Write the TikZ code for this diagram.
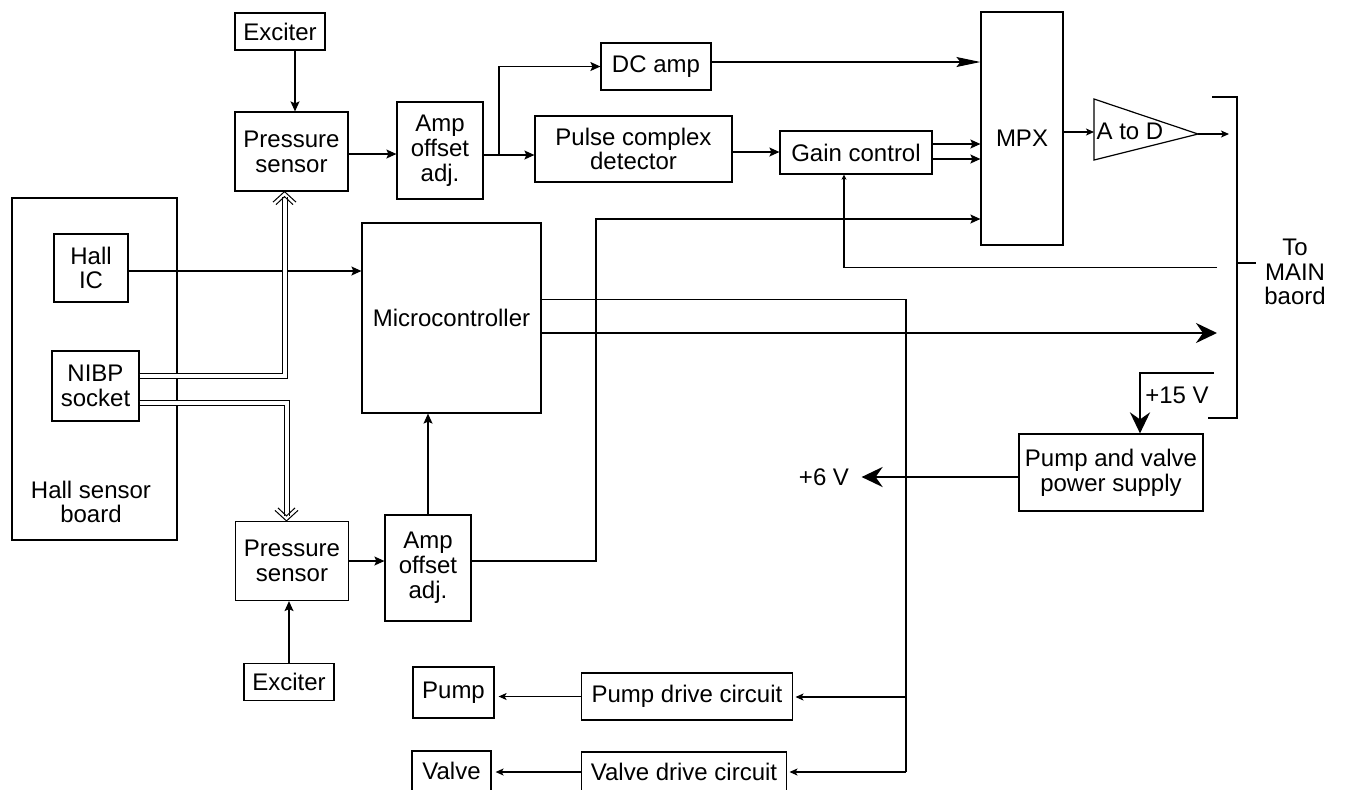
\documentclass[tikz,border=0pt]{standalone}
\usepackage{fontspec}
\setmainfont{Liberation Sans}
\usetikzlibrary{arrows.meta}
\begin{document}
\begin{tikzpicture}[x=0.5pt,y=-0.5pt,
  line width=0.6pt,
  box/.style={draw,line width=0.6pt,inner sep=0pt,align=center,font=\fontsize{12}{12.4}\selectfont},
  txt/.style={inner sep=0pt,align=center,font=\fontsize{12}{12.4}\selectfont},
  arr/.style={-{Stealth[length=5pt,width=4.5pt,inset=1pt]}},
  sarr/.style={-{Stealth[length=4pt,width=3.5pt,inset=1pt]}},
  farr/.style={-{Stealth[length=2.5pt,width=2.5pt,inset=0.6pt]}},
  larr/.style={-{Stealth[length=12pt,width=5pt,inset=2pt]}},
  tarr/.style={line width=1.3pt,-{Stealth[length=10.5pt,width=10pt,inset=3.5pt]}},
  dbl/.style={double,double distance=2pt,line width=0.5pt,shorten >=2.5pt},
  chev/.style={line width=0.5pt}
]
\useasboundingbox (0,0) rectangle (1345,789);
\clip (0,0) rectangle (1345,789);

% upper chain
\node[box,minimum width=45pt,minimum height=18.5pt] (exc1) at (280,31.5) {Exciter};
\node[box,minimum width=56.5pt,minimum height=39.5pt] (ps1) at (291.5,151.5) {Pressure\\sensor};
\node[box,minimum width=43pt,minimum height=48.5pt] (amp1) at (440,150.5) {Amp\\offset\\adj.};
\node[box,minimum width=55pt,minimum height=23.5pt] (dc) at (656,66.5) {DC amp};
\node[box,minimum width=98.5pt,minimum height=33pt] (pcd) at (633.5,149) {Pulse complex\\detector};
\node[box,minimum width=76pt,minimum height=21.5pt] (gain) at (856,152.5) {Gain control};
\node[box,minimum width=41pt,minimum height=116.5pt] (mpx) at (1022,128.5) {};
\node[txt] (mpxtxt) at (1022,138) {MPX};
\draw (1094,99) -- (1198,134) -- (1094,160) -- cycle;
\coordinate (adin) at (1094,132);
\coordinate (adout) at (1198,134);
\coordinate (adend) at (1229,134);
\node[txt,anchor=west] (adtxt) at (1096,131) {A to D};

% hall sensor board
\node[draw,line width=1.1pt,minimum width=82.5pt,minimum height=171pt,inner sep=0pt] (board) at (94.5,369) {};
\node[txt] (boardtxt) at (91,502) {Hall sensor\\board};
\node[box,minimum width=37pt,minimum height=34pt] (hall) at (91,268) {Hall\\IC};
\node[box,minimum width=43.5pt,minimum height=35pt] (nibp) at (95.5,386) {NIBP\\socket};

% middle / lower
\node[box,minimum width=89.5pt,minimum height=95pt] (mcu) at (451.5,318) {Microcontroller};
\node[box,minimum width=56.5pt,minimum height=39.5pt] (ps2) at (292,561) {Pressure\\sensor};
\node[box,minimum width=43pt,minimum height=53pt] (amp2) at (428,568) {Amp\\offset\\adj.};
\node[box,minimum width=45pt,minimum height=18.5pt] (exc2) at (289,682) {Exciter};
\node[box,minimum width=40.5pt,minimum height=25.5pt] (pump) at (453.5,692.5) {Pump};
\node[box,minimum width=105.5pt,minimum height=23.5pt] (pdc) at (687,696.5) {Pump drive circuit};
\node[box,minimum width=39.5pt,minimum height=20pt] (valve) at (451.5,771) {Valve};
\node[box,minimum width=102.5pt,minimum height=20pt] (vdc) at (684,772) {Valve drive circuit};
\node[box,minimum width=92pt,minimum height=38.5pt] (psu) at (1111,472.5) {Pump and valve\\power supply};
\node[txt] (v6) at (824,477) {+6 V};
\node[txt] (v15) at (1177,395) {+15 V};
\node[txt] (tomain) at (1295,272) {To\\MAIN\\baord};

% connectors upper
\draw[arr] ([xshift=7.5pt]exc1.south) -- ([xshift=1.75pt]ps1.north);
\draw[arr] ([yshift=-1.25pt]ps1.east) -- ([yshift=-1.25pt]ps1.east -| amp1.west);
\draw[arr] ([yshift=-2.25pt]amp1.east) -- ([yshift=-2.25pt]amp1.east -| pcd.west);
\coordinate (br1) at (499,155);
\draw[arr] (br1) |- (dc.west);
\draw[arr] ([yshift=-1.5pt]pcd.east) -- ([yshift=-1.5pt]pcd.east -| gain.west);
\draw[larr] ([yshift=2.25pt]dc.east) -- ([yshift=2.25pt]dc.east -| mpx.west);
\draw[arr] ([yshift=4.25pt]gain.east) -- ([yshift=4.25pt]gain.east -| mpx.west);
\draw[arr] ([yshift=-3.25pt]gain.east) -- ([yshift=-3.25pt]gain.east -| mpx.west);
\draw[sarr] (mpx.east |- adin) -- (adin);
\draw[sarr] (adout) -- (adend);

% hall board connections
\draw[arr] ([yshift=-1.5pt]hall.east) -- ([yshift=-1.5pt]hall.east -| mcu.west);
\coordinate (t1) at ([xshift=-3.5pt]ps1.south);
\coordinate (t2) at ([xshift=-2.75pt]ps2.north);
\draw[dbl] ([yshift=5.25pt]nibp.east) -| (t1);
\draw[dbl] ([yshift=-8.5pt]nibp.east) -| (t2);
% double-line chevron heads
\draw[chev] (t1) ++(-11.5,10.5) -- ++(11.5,-10.5) -- ++(11.5,10.5);
\draw[chev] (t1) ++(-8.5,13) -- ++(8.5,-8) -- ++(8.5,8);
\draw[chev] (t2) ++(-11.5,-10.5) -- ++(11.5,10.5) -- ++(11.5,-10.5);
\draw[chev] (t2) ++(-8.5,-13) -- ++(8.5,8) -- ++(8.5,-8);

% lower chain
\draw[arr] (exc2.north) -- (exc2.north |- ps2.south);
\draw[arr] (ps2.east) -- (ps2.east -| amp2.west);
\draw[arr] (amp2.north) -- (amp2.north |- mcu.south);
\coordinate (c1) at (596,219);
\draw[arr] ([yshift=3.5pt]amp2.east) -| (c1) -- (c1 -| mpx.west);

% microcontroller outputs
\coordinate (v2) at (906,697);
\coordinate (v3) at (906,772);
\draw ([yshift=9.25pt]mcu.east) -| (v3);
\draw[sarr,shorten >=1.2pt] (v2) -- (v2 -| pdc.east);
\draw[sarr,shorten >=1.2pt] (v3) -- (v3 -| vdc.east);
\draw[sarr,shorten >=2pt] (pdc.west) -- (pdc.west -| pump.east);
\draw[sarr,shorten >=2pt] (vdc.west) -- (vdc.west -| valve.east);
\coordinate (m1) at (1217,334);
\draw[tarr] ([yshift=-7.5pt]mcu.east) -- ([yshift=-7.5pt]mcu.east -| m1);

% feedback to gain control
\coordinate (f1) at (1217,267.5);
\coordinate (f2) at (844,267.5);
\draw[farr] (f1) -- (f2) -- (f2 |- gain.south);

% bracket to main board
\draw (1212,97) -- (1237,97) -- (1237,418) -- (1208,418);
\draw (1237,263) -- (1256,263);

% power
\coordinate (p1) at (1214,373);
\draw[tarr] (p1) -| ([xshift=14.5pt]psu.north);
\draw[tarr,shorten >=6pt] ([yshift=-2.25pt]psu.west) -- ([yshift=-2.25pt]psu.west -| v6.east);
\end{tikzpicture}
\end{document}
